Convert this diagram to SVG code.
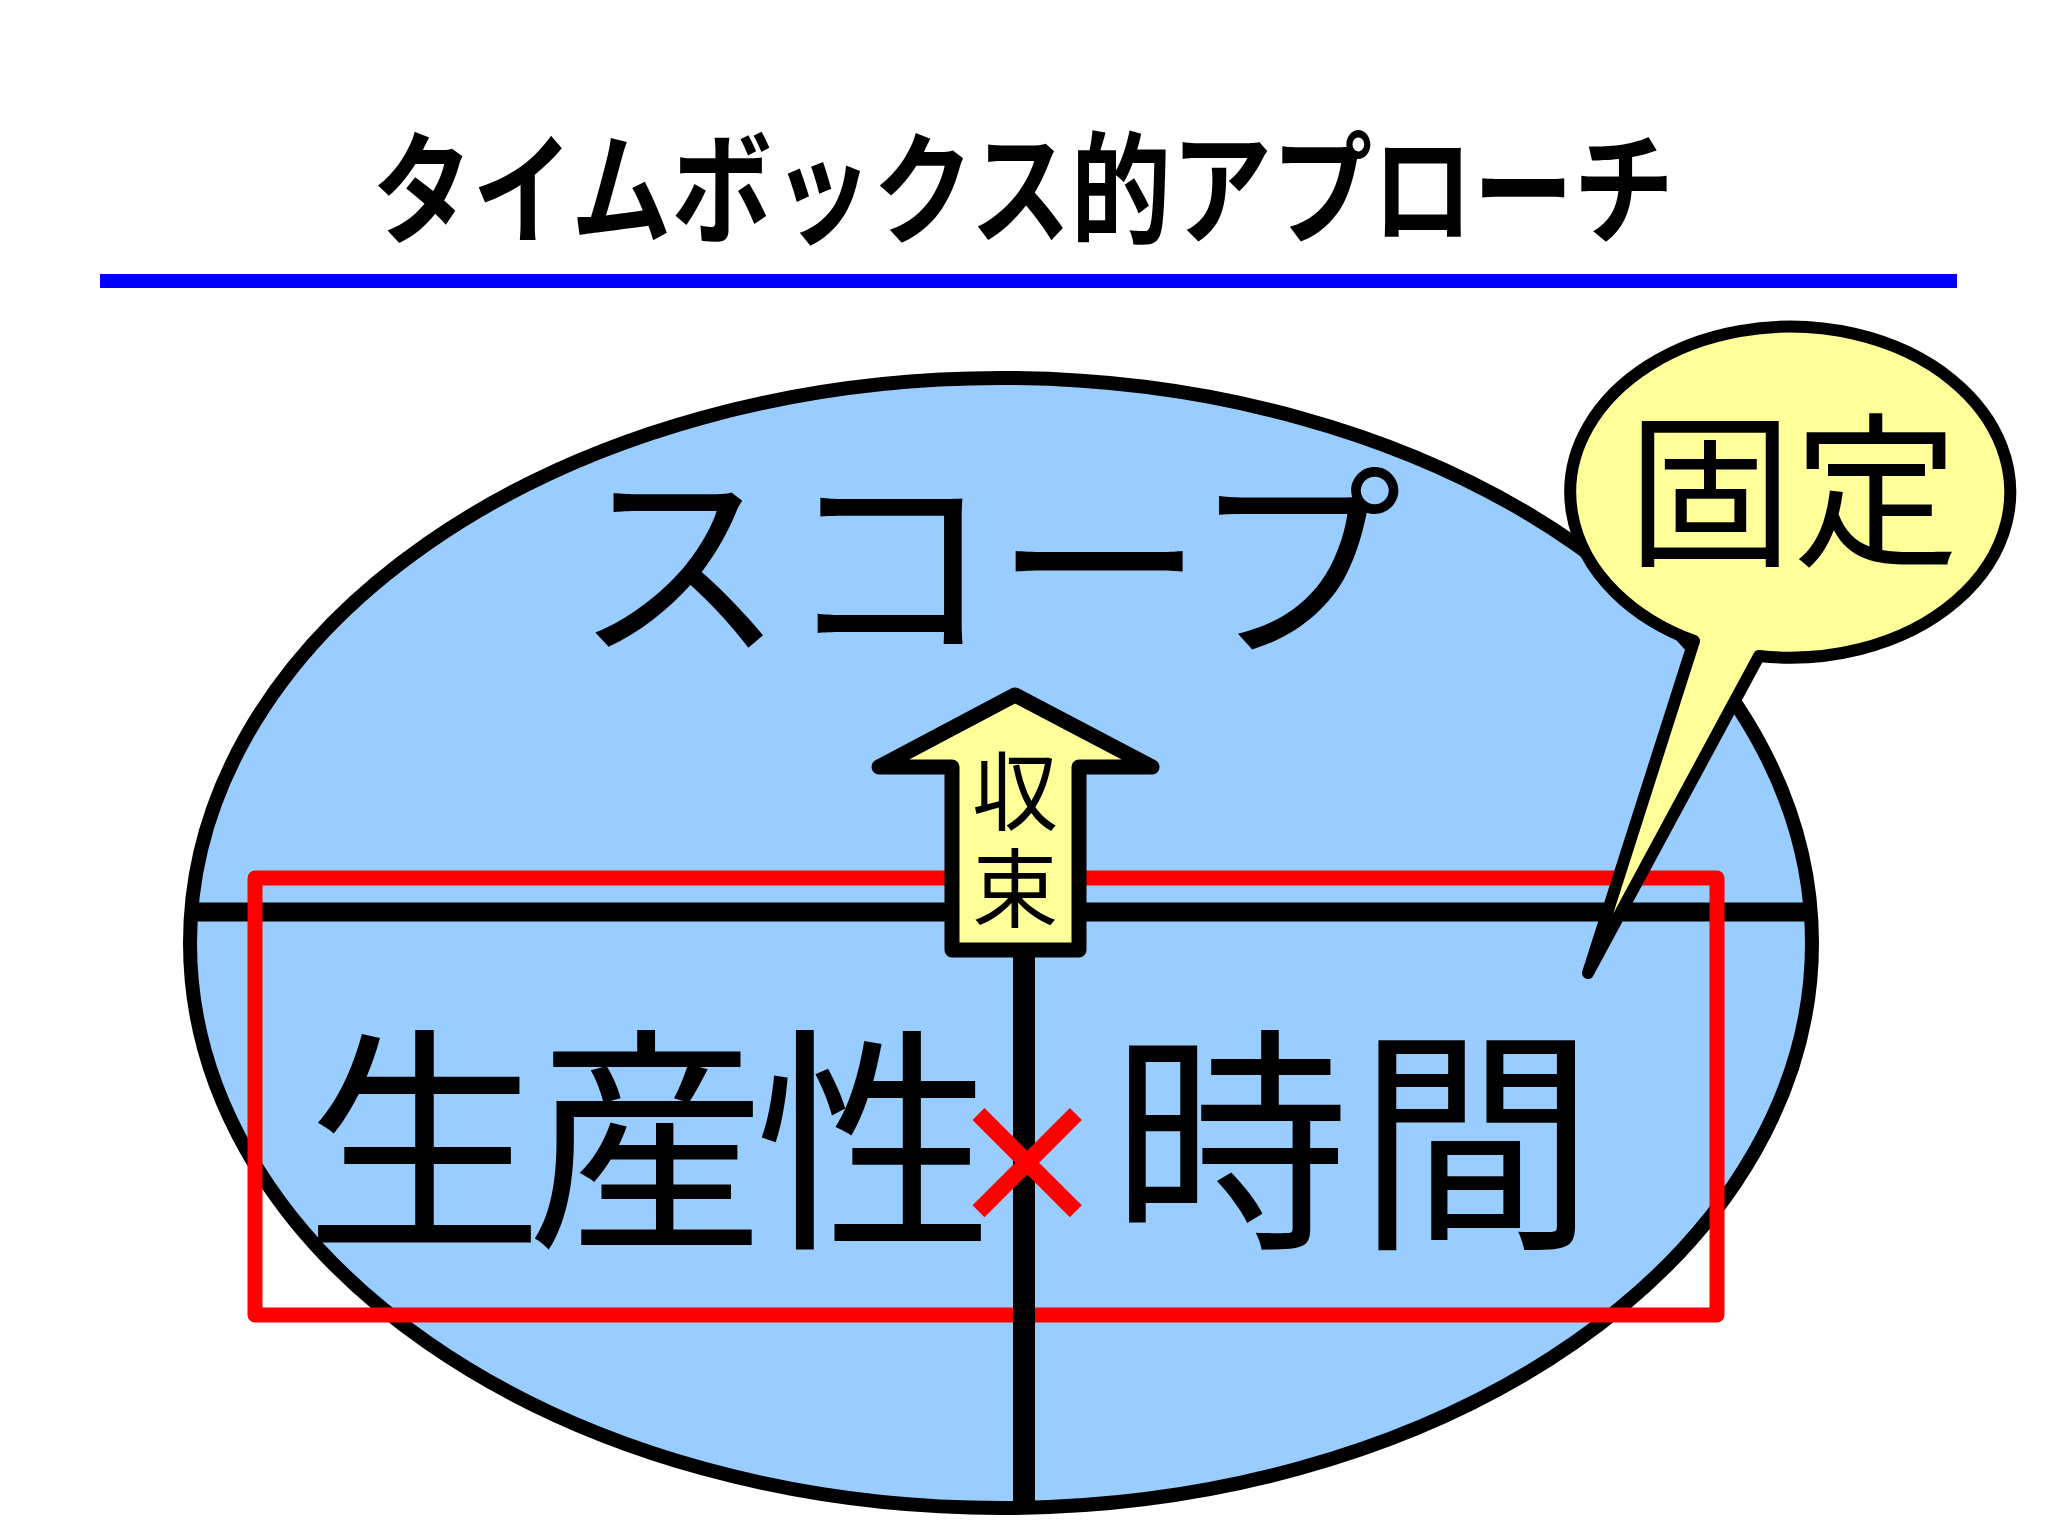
<svg xmlns="http://www.w3.org/2000/svg" width="2048" height="1535" viewBox="0 0 2048 1535">
<style>
.jp{font-family:"Noto Sans CJK JP","Noto Sans CJK SC",sans-serif;fill:#000}
.ol{stroke:#000;stroke-linejoin:round;stroke-linecap:round}
.yel{fill:#FFFF99}
</style>
<rect x="0" y="0" width="2048" height="1535" fill="#fff"/>
<g id="title">
<text class="jp" x="372" y="234" font-size="122" font-weight="bold" textLength="1302" lengthAdjust="spacingAndGlyphs">タイムボックス的アプローチ</text>
<rect x="100" y="274" width="1857" height="14" fill="#0000FF"/>
</g>
<g id="scope-ellipse">
<ellipse cx="1001" cy="943" rx="811" ry="565" fill="#99CCFF" stroke="#000" stroke-width="14"/>
</g>
<g id="connectors">
<line x1="190" y1="912" x2="1812" y2="912" stroke="#000" stroke-width="19"/>
</g>
<g id="timebox">
<rect x="255" y="878" width="1462" height="437" fill="none" stroke="#FF0000" stroke-width="15" stroke-linejoin="round"/>
</g>
<g id="divider">
<line x1="1024" y1="950" x2="1024" y2="1508" stroke="#000" stroke-width="22"/>
</g>
<g id="arrow">
<polygon class="yel ol" stroke-width="15" points="1015,695 1152,767 1079,767 1079,950 952,950 952,767 879,767"/>
<text class="jp" font-size="86" text-anchor="middle"><tspan x="1015" y="824">収</tspan><tspan x="1015" y="921">束</tspan></text>
</g>
<g id="scope-label">
<text class="jp" x="988" y="642" font-size="210" text-anchor="middle">スコープ</text>
</g>
<g id="formula">
<text class="jp" font-size="238" text-anchor="middle"><tspan x="424" y="1230">生</tspan><tspan x="646" y="1230">産</tspan><tspan x="874" y="1230">性</tspan><tspan x="1027" y="1226" font-size="166" font-weight="bold" fill="#FF0000">×</tspan><tspan x="1230" y="1230">時</tspan><tspan x="1476" y="1230">間</tspan></text>
</g>
<g id="callout">
<path class="yel ol" stroke-width="12" d="M 1694 641 L 1588 973 L 1759 656 A 220 165.5 0 1 0 1694 641 Z"/>
<text class="jp" x="1793" y="553" font-size="166" text-anchor="middle">固定</text>
</g>
</svg>
